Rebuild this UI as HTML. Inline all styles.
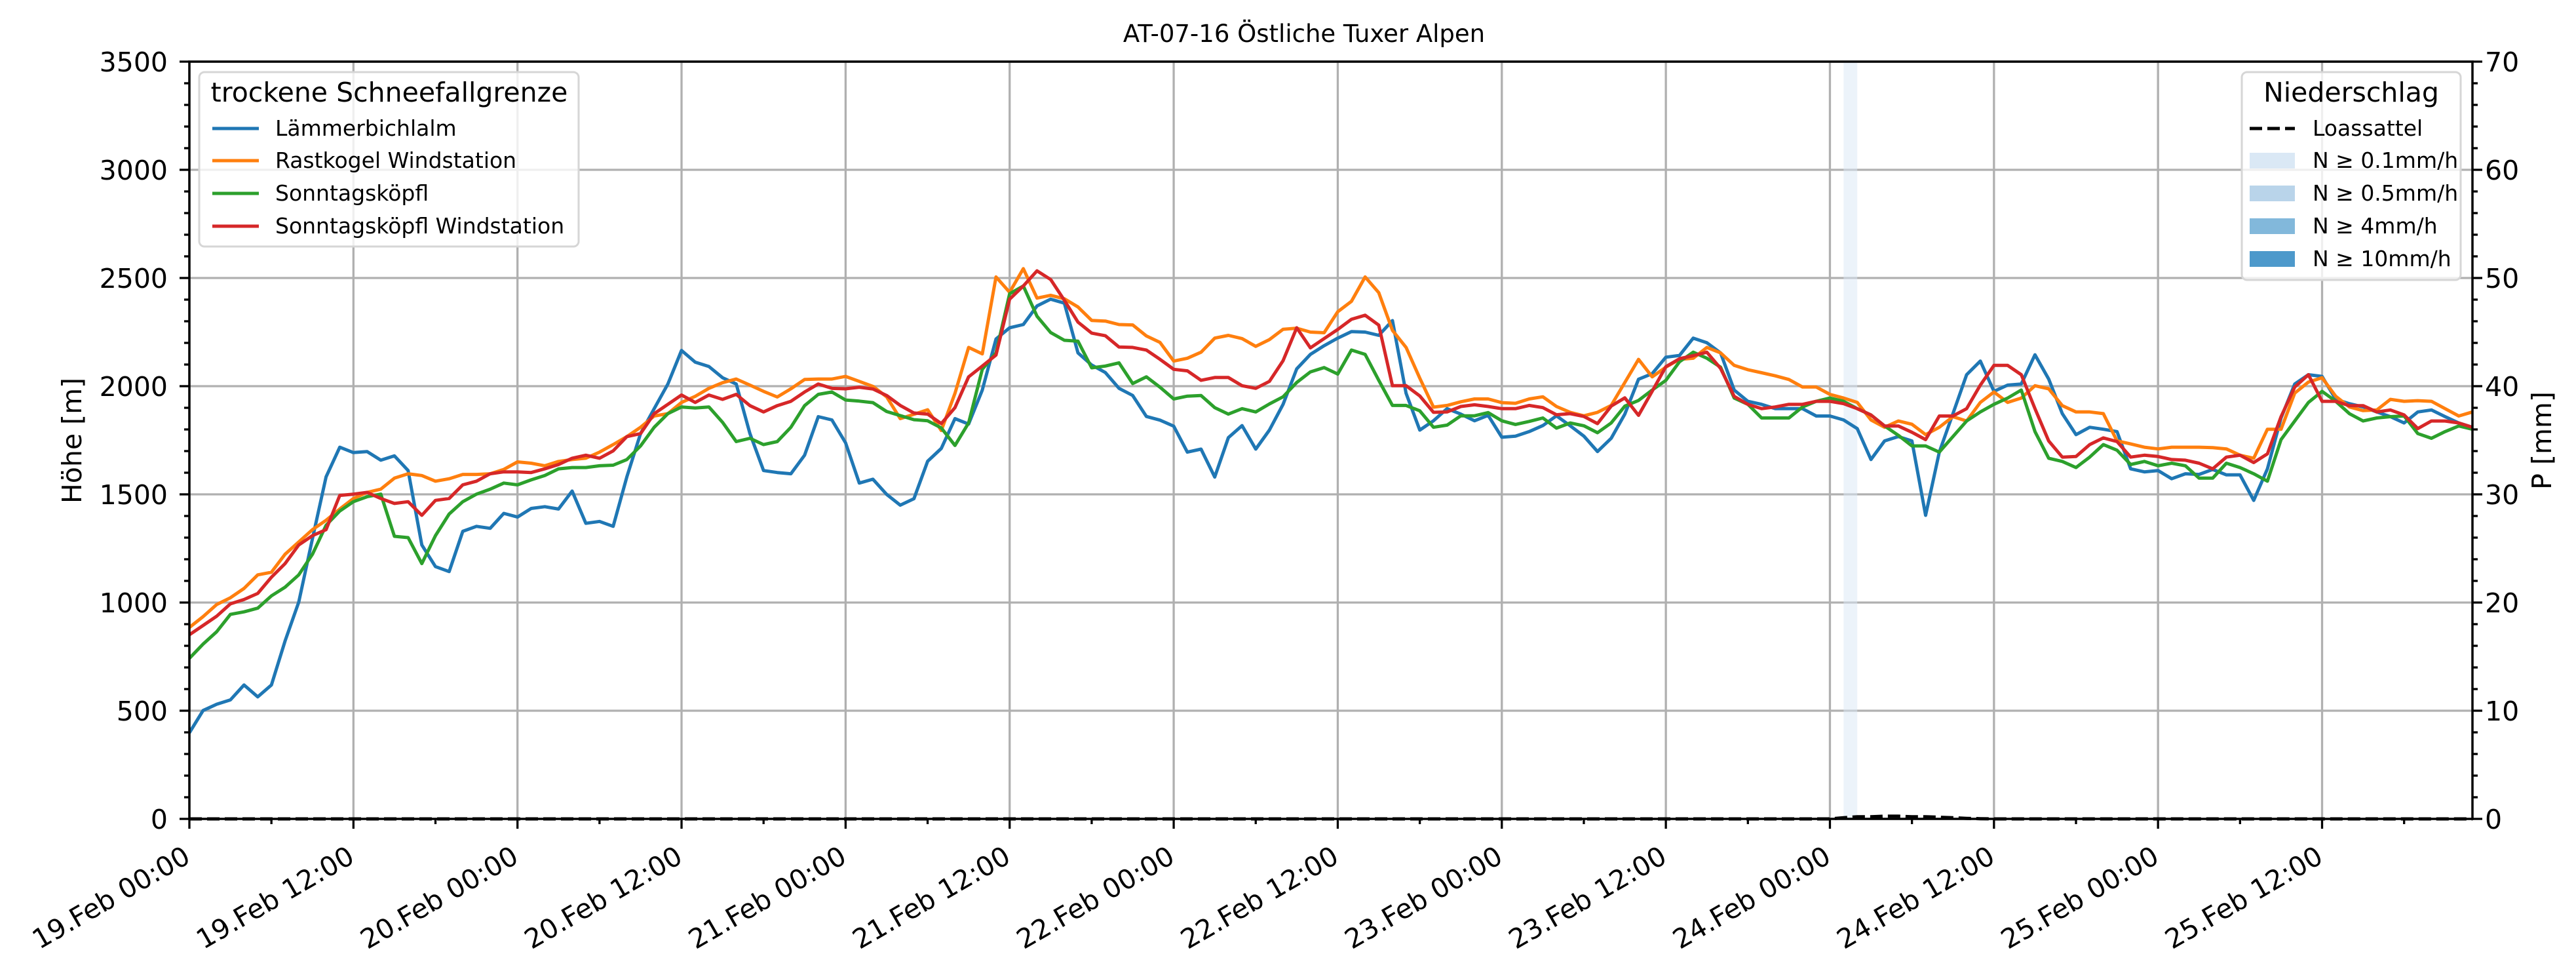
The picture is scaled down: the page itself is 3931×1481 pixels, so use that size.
<!DOCTYPE html>
<html><head><meta charset="utf-8"><style>
html,body{margin:0;padding:0;background:#fff;}
svg{display:block;font-family:"DejaVu Sans","Liberation Sans",sans-serif;}
</style></head><body>
<svg id="chart" width="3931" height="1481" viewBox="0 0 3931 1481" xmlns="http://www.w3.org/2000/svg">
<rect width="3931" height="1481" fill="#fff"/>
<text x="1990" y="64" font-size="37" text-anchor="middle">AT-07-16 Östliche Tuxer Alpen</text>
<g id="grid"></g>
<g id="spans"></g>
<g id="series"></g>
<g id="axes"></g>
<text transform="translate(124,672) rotate(-90)" font-size="41" text-anchor="middle">Höhe [m]</text>
<text transform="translate(3893,672) rotate(-90)" font-size="41" text-anchor="middle">P [mm]</text>
<g>
<rect x="304" y="110" width="579" height="266" rx="8" fill="#fff" fill-opacity="0.8" stroke="#d6d6d6" stroke-width="3"/>
<text x="594" y="155" font-size="41" text-anchor="middle">trockene Schneefallgrenze</text>
<g><line x1="324" y1="196" x2="395" y2="196" stroke="#1f77b4" stroke-width="5"/><text x="420" y="207" font-size="33">Lämmerbichlalm</text></g>
<g><line x1="324" y1="245" x2="395" y2="245" stroke="#ff7f0e" stroke-width="5"/><text x="420" y="256" font-size="33">Rastkogel Windstation</text></g>
<g><line x1="324" y1="295" x2="395" y2="295" stroke="#2ca02c" stroke-width="5"/><text x="420" y="306" font-size="33">Sonntagsköpfl</text></g>
<g><line x1="324" y1="345" x2="395" y2="345" stroke="#d62728" stroke-width="5"/><text x="420" y="356" font-size="33">Sonntagsköpfl Windstation</text></g>
</g>
<g>
<rect x="3421" y="110" width="334" height="317" rx="8" fill="#fff" fill-opacity="0.8" stroke="#d6d6d6" stroke-width="3"/>
<text x="3588" y="155" font-size="41" text-anchor="middle">Niederschlag</text>
<g><line x1="3433" y1="196" x2="3502" y2="196" stroke="#000" stroke-width="5" stroke-dasharray="19,8"/><text x="3529" y="207" font-size="33">Loassattel</text></g>
<g><rect x="3433" y="233" width="69" height="24" fill="#dae8f5"/><text x="3529" y="256" font-size="33">N ≥ 0.1mm/h</text></g>
<g><rect x="3433" y="283" width="69" height="24" fill="#b9d4ea"/><text x="3529" y="306" font-size="33">N ≥ 0.5mm/h</text></g>
<g><rect x="3433" y="333" width="69" height="24" fill="#82b8db"/><text x="3529" y="356" font-size="33">N ≥ 4mm/h</text></g>
<g><rect x="3433" y="383" width="69" height="24" fill="#4d99cb"/><text x="3529" y="406" font-size="33">N ≥ 10mm/h</text></g>
</g>
</svg>
<script>
var xTickLabels = ["19.Feb 00:00","19.Feb 12:00","20.Feb 00:00","20.Feb 12:00","21.Feb 00:00","21.Feb 12:00","22.Feb 00:00","22.Feb 12:00","23.Feb 00:00","23.Feb 12:00","24.Feb 00:00","24.Feb 12:00","25.Feb 00:00","25.Feb 12:00"];
var yTicks = [0,500,1000,1500,2000,2500,3000,3500];
var y2Ticks = [0,10,20,30,40,50,60,70];
var seriesNames = ["Lämmerbichlalm","Rastkogel Windstation","Sonntagsköpfl","Sonntagsköpfl Windstation"];
var seriesColors = ["#1f77b4","#ff7f0e","#2ca02c","#d62728"];
var blueVals = [398,501,530,550,619,564,619,822,1002,1295,1581,1718,1693,1698,1658,1678,1610,1266,1166,1143,1329,1352,1343,1412,1395,1435,1443,1432,1515,1366,1375,1352,1581,1781,1896,2010,2165,2111,2091,2039,2010,1781,1610,1601,1595,1681,1859,1844,1738,
1552,1570,1500,1450,1480,1653,1712,1850,1825,1982,2218,2270,2285,2371,2402,2384,2154,2098,2063,1990,1957,1860,1843,1815,1695,1709,1580,1762,1818,1709,1797,1916,
2080,2147,2187,2222,2252,2250,2235,2303,1967,1797,1840,1896,1871,1840,1865,1764,1769,1790,1818,1863,1817,1769,1698,1759,1871,2032,2058,2134,2142,2222,2201,
2154,1982,1930,1916,1896,1896,1896,1862,1862,1844,1804,1661,1747,1767,1747,1403,1695,1873,2053,2116,1976,2005,2010,2145,2033,1873,1776,1810,1801,1790,1618,1604,1610,1572,1595,1592,1615,1590,1590,1472,1618,1853,2010,2053,2045,1939,1919,1904,1881,1859,1830,1881,1890,1859,1830,1810];
var orangeVals = [885,935,991,1022,1065,1128,1140,1223,1280,1337,1380,1432,1481,1509,1524,1575,1595,1587,1561,1572,1592,1592,1595,1615,1650,1644,1632,1652,1661,1667,1695,1730,1767,1810,1862,1873,1925,1953,1990,2016,2033,2005,1976,1950,1988,2031,2033,2033,2045,
2022,1999,1951,1850,1870,1891,1795,1967,2179,2149,2505,2434,2543,2407,2420,2404,2366,2304,2301,2285,2283,2232,2202,2116,2129,2157,2222,2235,2220,2184,2215,2263,
2268,2250,2247,2344,2392,2505,2432,2258,2179,2037,1903,1911,1928,1941,1941,1924,1921,1941,1951,1906,1879,1863,1879,1911,2017,2124,2043,2088,2124,2129,2179,
2154,2096,2076,2062,2048,2031,1996,1996,1962,1945,1925,1844,1810,1839,1824,1776,1810,1859,1839,1925,1973,1925,1945,2002,1988,1910,1881,1881,1873,1747,1733,1718,1710,1718,1718,1718,1716,1710,1681,1667,1801,1801,1968,2019,2039,1953,1904,1887,1890,1939,1930,1933,1930,1896,1862,1881];
var greenVals = [742,808,865,945,957,974,1031,1071,1128,1223,1357,1423,1466,1489,1501,1306,1300,1180,1309,1409,1466,1501,1524,1552,1544,1567,1587,1618,1624,1624,1632,1635,1661,1724,1810,1873,1904,1899,1904,1833,1744,1759,1730,1744,1810,1910,1962,1973,1936,
1931,1924,1883,1864,1845,1840,1807,1726,1830,2078,2154,2427,2463,2323,2248,2212,2208,2085,2093,2108,2012,2043,1995,1941,1954,1957,1901,1871,1896,1881,1918,1951,
2017,2066,2086,2056,2167,2147,2027,1911,1911,1886,1810,1820,1863,1863,1878,1840,1823,1837,1853,1806,1830,1817,1785,1830,1908,1934,1982,2027,2113,2157,2129,
2088,1945,1916,1853,1853,1853,1904,1930,1945,1930,1896,1867,1816,1773,1724,1724,1695,1767,1839,1881,1916,1945,1982,1790,1667,1652,1624,1672,1730,1704,1638,1652,1632,1644,1632,1575,1575,1644,1624,1595,1561,1753,1839,1925,1976,1930,1873,1839,1853,1859,1862,1781,1759,1790,1816,1801];
var redVals = [851,894,937,994,1014,1042,1117,1180,1266,1309,1337,1495,1501,1509,1481,1458,1466,1403,1472,1481,1544,1561,1595,1604,1604,1601,1618,1638,1667,1681,1667,1701,1767,1781,1873,1916,1959,1925,1959,1939,1962,1910,1881,1910,1930,1973,2010,1990,1988,
1995,1987,1957,1911,1876,1871,1827,1901,2043,2093,2144,2402,2463,2533,2493,2397,2296,2245,2233,2181,2179,2167,2124,2078,2071,2027,2040,2040,2002,1990,2022,2118,
2270,2177,2220,2262,2309,2328,2282,2002,2002,1955,1879,1881,1906,1914,1906,1896,1896,1911,1901,1868,1873,1860,1827,1908,1946,1865,1977,2090,2127,2141,2157,
2082,1953,1916,1896,1904,1916,1916,1930,1930,1919,1896,1867,1816,1816,1787,1753,1862,1862,1896,2005,2096,2096,2053,1896,1747,1672,1675,1730,1761,1744,1672,1681,1675,1661,1658,1644,1618,1672,1681,1647,1687,1859,1996,2053,1930,1930,1910,1910,1881,1890,1867,1804,1839,1839,1830,1810];
var precipHours = [121,122,123,124,125,126,127,128,129,130,131];
var precipVals = [0.1,0.2,0.2,0.25,0.25,0.2,0.2,0.15,0.1,0.05,0.02];
var spanStart = [121];
var spanEnd = [122];

var NS="http://www.w3.org/2000/svg";
var L=289,R=3773,T=94,B=1249,HMAX=167;
function xs(h){return L+(R-L)*h/HMAX;}
function ys(v){return B-(B-T)*v/3500;}
function y2s(v){return B-(B-T)*v/70;}
function mk(tag,attrs,parent){var e=document.createElementNS(NS,tag);for(var k in attrs)e.setAttribute(k,attrs[k]);parent.appendChild(e);return e;}
var grid=document.getElementById('grid'),axes=document.getElementById('axes'),spans=document.getElementById('spans'),ser=document.getElementById('series');
for(var i=0;i<xTickLabels.length;i++){var x=xs(i*12);
 var g=mk('line',{x1:x,x2:x,y1:T,y2:B,stroke:'#b0b0b0','stroke-width':3.3},grid);
 
 }
for(var i=0;i<yTicks.length;i++){var y=ys(yTicks[i]);
 var g=mk('line',{x1:L,x2:R,y1:y,y2:y,stroke:'#b0b0b0','stroke-width':3.3},grid);
 
 }
for(var i=0;i<spanStart.length;i++){
 var s=mk('rect',{x:xs(spanStart[i]),y:T,width:xs(spanEnd[i])-xs(spanStart[i]),height:B-T,fill:'#dae8f5','fill-opacity':0.5},spans);
 
 }
var allVals=[blueVals,orangeVals,greenVals,redVals];
for(var s=0;s<4;s++){var d='';var v=allVals[s];
 for(var h=0;h<v.length;h++){d+=(h?'L':'M')+xs(h).toFixed(1)+','+ys(v[h]).toFixed(1);}
 var p=mk('path',{d:d,fill:'none',stroke:seriesColors[s],'stroke-width':5,'stroke-linejoin':'round'},ser);
 
 }
var pd='M'+xs(0)+','+y2s(0);
for(var h=1;h<=HMAX;h++){var val=0;var idx=precipHours.indexOf(h);if(idx>=0)val=precipVals[idx];pd+='L'+xs(h).toFixed(1)+','+y2s(val).toFixed(1);}
var pl=mk('path',{d:pd,fill:'none',stroke:'#000','stroke-width':5,'stroke-dasharray':'19,8'},ser);


var fr=mk('rect',{x:L,y:T,width:R-L,height:B-T,fill:'none',stroke:'#000','stroke-width':3.5},axes);


for(var h=0;h<=HMAX;h+=6){var x=xs(h);var major=(h%12==0);
 var t=mk('line',{x1:x,x2:x,y1:B,y2:B+(major?15:8),stroke:'#000','stroke-width':3.3},axes);
 
 }
for(var i=0;i<xTickLabels.length;i++){var x=xs(i*12)+4,y=1314;
 var tx=mk('text',{x:0,y:0,'font-size':41,'text-anchor':'end',transform:'translate('+x+','+y+') rotate(-30)'},axes);
 tx.textContent=xTickLabels[i];
 
 }
for(var v=0;v<=3500;v+=100){var y=ys(v);var major=(v%500==0);
 var t=mk('line',{x1:L-(major?15:8),x2:L,y1:y,y2:y,stroke:'#000','stroke-width':3.3},axes);
 
 }
for(var i=0;i<yTicks.length;i++){
 var tx=mk('text',{x:256,y:ys(yTicks[i])+15,'font-size':41,'text-anchor':'end'},axes);
 tx.textContent=yTicks[i];
 
 }
for(var v=0;v<=70;v+=2){var y=y2s(v);var major=(v%10==0);
 var t=mk('line',{x1:R,x2:R+(major?15:8),y1:y,y2:y,stroke:'#000','stroke-width':3.3},axes);
 
 }
for(var i=0;i<y2Ticks.length;i++){
 var tx=mk('text',{x:3792,y:y2s(y2Ticks[i])+15,'font-size':41,'text-anchor':'start'},axes);
 tx.textContent=y2Ticks[i];
 
 }
</script>
</body></html>
